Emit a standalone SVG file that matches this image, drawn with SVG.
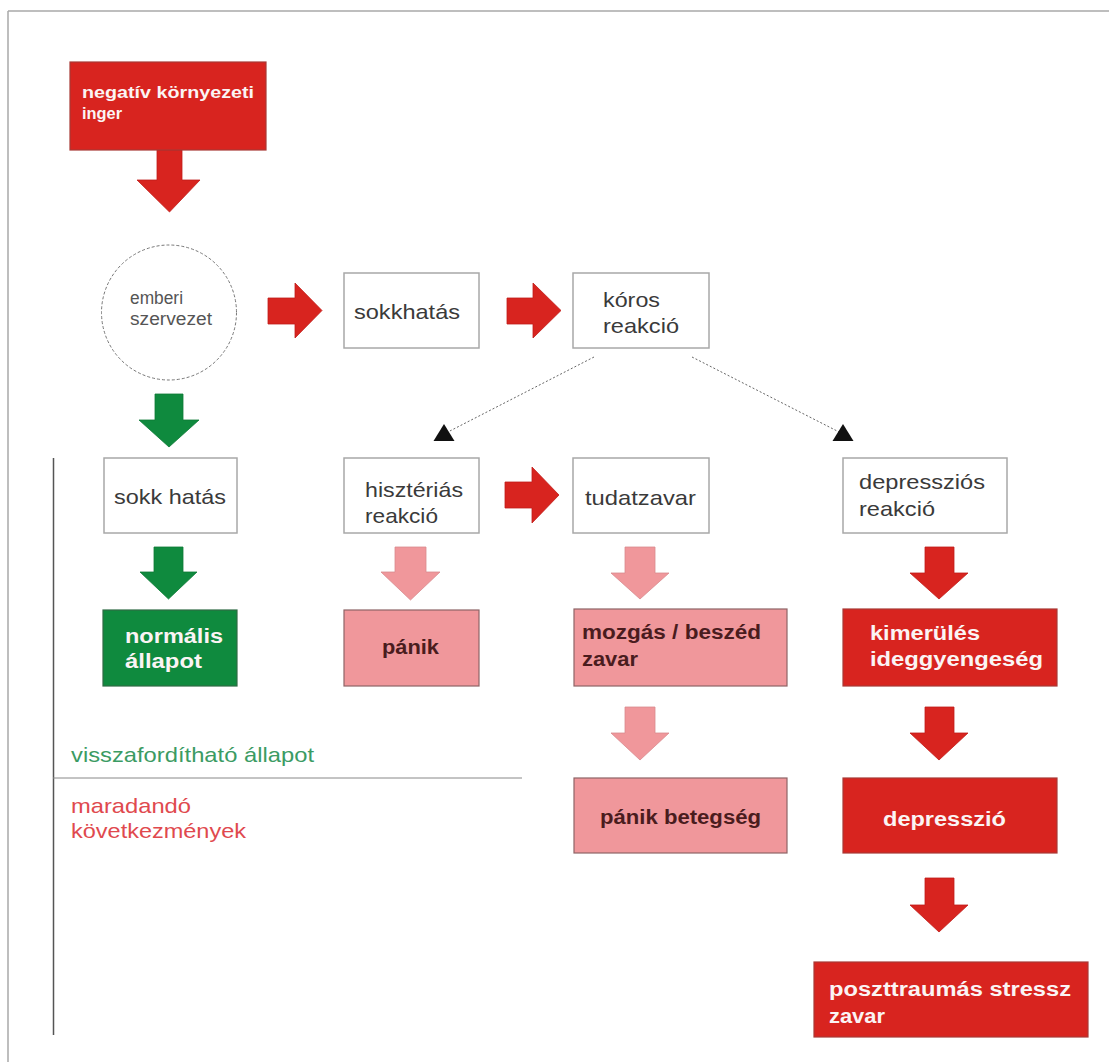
<svg xmlns="http://www.w3.org/2000/svg" width="1109" height="1062" viewBox="0 0 1109 1062">
<style>
text { font-family: "Liberation Sans", Arial, sans-serif; }
.plain { font-size: 21px; fill: #3a3a3a; }
.small { font-size: 18px; fill: #555; }
.bw { font-size: 20px; font-weight: bold; fill: #fbf4f4; }
.bd { font-size: 20px; font-weight: bold; fill: #4a1c1e; }
.wbox { fill: #fff; stroke: #a8a8a8; stroke-width: 1.5; }
.rbox { fill: #d8241f; stroke: #a83a36; stroke-width: 1.2; }
.pbox { fill: #f0979b; stroke: #8e6466; stroke-width: 1.2; }
.gbox { fill: #0f8a3e; stroke: #2f6b45; stroke-width: 1.2; }
.red { fill: #d8241f; stroke: #c01d19; stroke-width: 0.8; }
.pink { fill: #f0979b; stroke: #d88a8e; stroke-width: 0.8; }
.green { fill: #0f8a3e; stroke: #0d7a36; stroke-width: 0.8; }
.dot { stroke: #666; stroke-width: 1; stroke-dasharray: 2 2; fill: none; }
.side { font-size: 21px; }
</style>
<defs>
<marker id="tri" markerUnits="userSpaceOnUse" markerWidth="24" markerHeight="20" refX="12" refY="10" orient="0" viewBox="0 0 24 20">
<polygon points="12,0 1.5,17 22.5,17" fill="#111"/>
</marker>
</defs>
<rect width="1109" height="1062" fill="#fff"/>
<g id="frame" stroke="#a8a8a8" stroke-width="1.5">
<line x1="8" y1="11" x2="1109" y2="11"/>
<line x1="8" y1="11" x2="8" y2="1062"/>
</g>
<g id="dividers">
<line x1="53.5" y1="458" x2="53.5" y2="1035" stroke="#555" stroke-width="1.5"/>
<line x1="53" y1="778" x2="522" y2="778" stroke="#888" stroke-width="1"/>
</g>
<g id="connectors">
<polygon class="red" points="157,150 182,150 182,180 200,180 169.5,212 137,180 157,180"/>
<polygon class="green" points="155,394 183,394 183,420 199,420 169,447 139,420 155,420"/>
<polygon class="red" points="268,298 295,298 295,283 322,310.5 295,338 295,324 268,324"/>
<polygon class="red" points="507,298 533,298 533,283 561,310.5 533,338 533,324 507,324"/>
<polygon class="red" points="505,482 532,482 532,467 559,495 532,523 532,508 505,508"/>
<line class="dot" x1="594" y1="357" x2="444" y2="434" marker-end="url(#tri)"/>
<line class="dot" x1="692" y1="357" x2="843" y2="434" marker-end="url(#tri)"/>
<polygon class="green" points="154,547 183,547 183,572 197,572 168.5,599 140,572 154,572"/>
<polygon class="pink" points="395,547 426,547 426,572 440,572 410.5,600 381,572 395,572"/>
<polygon class="pink" points="625,547 655,547 655,573 669,573 640,599 611,573 625,573"/>
<polygon class="red" points="925,547 954,547 954,573 968,573 939,599 910,573 925,573"/>
<polygon class="pink" points="625,707 655,707 655,733 669,733 640,760 611,733 625,733"/>
<polygon class="red" points="925,707 954,707 954,733 968,733 939,760 910,733 925,733"/>
<polygon class="red" points="925,878 954,878 954,905 968,905 939,932 910,905 925,905"/>
</g>
<g id="node-negativ">
<rect class="rbox" x="70" y="62" width="196" height="88"/>
<text class="bw" style="font-size:17px" x="82" y="98" textLength="172" lengthAdjust="spacingAndGlyphs">negatív környezeti</text>
<text class="bw" style="font-size:17px" x="82" y="119" textLength="40" lengthAdjust="spacingAndGlyphs">inger</text>
</g>
<g id="node-emberi">
<circle cx="169" cy="312.5" r="67.5" fill="#fff" stroke="#777" stroke-width="1" stroke-dasharray="3 2"/>
<text class="small" x="130" y="304" textLength="53" lengthAdjust="spacingAndGlyphs">emberi</text>
<text class="small" x="130" y="325" textLength="82" lengthAdjust="spacingAndGlyphs">szervezet</text>
</g>
<g id="node-sokkhatas">
<rect class="wbox" x="344" y="273" width="135" height="75"/>
<text class="plain" x="354" y="319" textLength="106" lengthAdjust="spacingAndGlyphs">sokkhatás</text>
</g>
<g id="node-koros">
<rect class="wbox" x="573" y="273" width="136" height="75"/>
<text class="plain" x="603" y="307" textLength="57" lengthAdjust="spacingAndGlyphs">kóros</text>
<text class="plain" x="603" y="333" textLength="76" lengthAdjust="spacingAndGlyphs">reakció</text>
</g>
<g id="node-sokk-hatas">
<rect class="wbox" x="104" y="458" width="133" height="75"/>
<text class="plain" x="114" y="504" textLength="112" lengthAdjust="spacingAndGlyphs">sokk hatás</text>
</g>
<g id="node-hiszterias">
<rect class="wbox" x="344" y="458" width="135" height="75"/>
<text class="plain" x="365" y="497" textLength="98" lengthAdjust="spacingAndGlyphs">hisztériás</text>
<text class="plain" x="365" y="523" textLength="73" lengthAdjust="spacingAndGlyphs">reakció</text>
</g>
<g id="node-tudatzavar">
<rect class="wbox" x="573" y="458" width="136" height="75"/>
<text class="plain" x="585" y="505" textLength="111" lengthAdjust="spacingAndGlyphs">tudatzavar</text>
</g>
<g id="node-depresszios">
<rect class="wbox" x="843" y="458" width="164" height="75"/>
<text class="plain" x="859" y="489" textLength="126" lengthAdjust="spacingAndGlyphs">depressziós</text>
<text class="plain" x="859" y="516" textLength="76" lengthAdjust="spacingAndGlyphs">reakció</text>
</g>
<g id="node-normalis">
<rect class="gbox" x="103" y="610" width="134" height="76"/>
<text class="bw" x="125" y="643" textLength="98" lengthAdjust="spacingAndGlyphs">normális</text>
<text class="bw" x="125" y="668" textLength="77" lengthAdjust="spacingAndGlyphs">állapot</text>
</g>
<g id="node-panik">
<rect class="pbox" x="344" y="610" width="135" height="76"/>
<text class="bd" x="382" y="654" textLength="57" lengthAdjust="spacingAndGlyphs">pánik</text>
</g>
<g id="node-mozgas">
<rect class="pbox" x="574" y="609" width="213" height="77"/>
<text class="bd" x="582" y="639" textLength="179" lengthAdjust="spacingAndGlyphs">mozgás / beszéd</text>
<text class="bd" x="582" y="666" textLength="56" lengthAdjust="spacingAndGlyphs">zavar</text>
</g>
<g id="node-kimerules">
<rect class="rbox" x="843" y="609" width="214" height="77"/>
<text class="bw" x="870" y="640" textLength="110" lengthAdjust="spacingAndGlyphs">kimerülés</text>
<text class="bw" x="870" y="666" textLength="173" lengthAdjust="spacingAndGlyphs">ideggyengeség</text>
</g>
<g id="node-panik-betegseg">
<rect class="pbox" x="574" y="778" width="213" height="75"/>
<text class="bd" x="600" y="824" textLength="161" lengthAdjust="spacingAndGlyphs">pánik betegség</text>
</g>
<g id="node-depresszio">
<rect class="rbox" x="843" y="778" width="214" height="75"/>
<text class="bw" x="883" y="826" textLength="123" lengthAdjust="spacingAndGlyphs">depresszió</text>
</g>
<g id="node-ptsd">
<rect class="rbox" x="814" y="962" width="274" height="75"/>
<text class="bw" x="829" y="996" textLength="242" lengthAdjust="spacingAndGlyphs">poszttraumás stressz</text>
<text class="bw" x="829" y="1023" textLength="56" lengthAdjust="spacingAndGlyphs">zavar</text>
</g>
<g id="labels">
<text class="side" x="71" y="762" style="fill:#3b9b63" textLength="243" lengthAdjust="spacingAndGlyphs">visszafordítható állapot</text>
<text class="side" x="71" y="813" style="fill:#e0494e" textLength="120" lengthAdjust="spacingAndGlyphs">maradandó</text>
<text class="side" x="71" y="838" style="fill:#e0494e" textLength="175" lengthAdjust="spacingAndGlyphs">következmények</text>
</g>
</svg>
